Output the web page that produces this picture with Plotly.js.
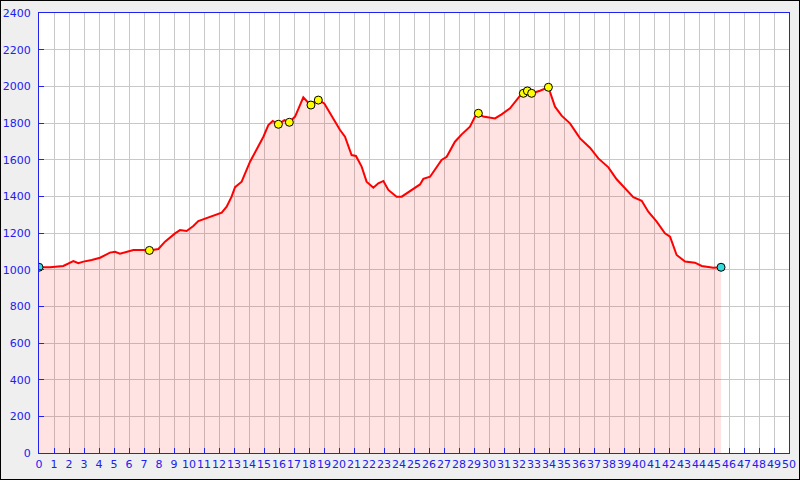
<!DOCTYPE html>
<html>
<head>
<meta charset="utf-8">
<script src="https://cdn.plot.ly/plotly-3.0.1.min.js"></script>
<style>
html,body{margin:0;padding:0;background:#efefef;}
#wrap{width:800px;height:480px;box-sizing:border-box;border:1px solid #000;background:#efefef;overflow:hidden;}
#chart{width:798px;height:478px;}
</style>
</head>
<body>
<div id="wrap"><div id="chart"></div></div>
<script>
// Elevation profile: distance (km) and elevation (m)
const distKm = [0,0.73,1.62,2.29,2.62,2.96,3.51,4.07,4.73,5.07,5.4,5.96,6.29,6.96,7.36,7.96,8.4,9.07,9.4,9.84,10.29,10.62,11.18,11.73,12.18,12.51,12.84,13.07,13.51,14.07,14.51,14.96,15.29,15.58,15.96,16.36,16.69,17.07,17.4,17.62,17.89,18.13,18.4,18.62,19.02,19.62,20.07,20.4,20.84,21.13,21.51,21.84,22.29,22.62,22.96,23.29,23.84,24.18,24.73,25.4,25.62,26.07,26.84,27.18,27.73,28.18,28.73,29.07,29.29,29.62,30.4,30.84,31.4,32.07,32.29,32.56,32.84,33.4,33.96,34.4,34.84,35.4,36.07,36.73,37.29,37.96,38.51,39.07,39.62,40.18,40.62,41.18,41.73,42.07,42.51,43.07,43.73,44.18,44.96,45.47];
const elevM = [1013,1013,1020,1047,1035,1044,1053,1065,1093,1098,1087,1098,1107,1107,1105,1113,1153,1198,1216,1211,1238,1265,1280,1298,1311,1344,1398,1450,1480,1589,1653,1725,1789,1811,1793,1816,1804,1835,1898,1940,1916,1898,1916,1925,1907,1825,1762,1725,1625,1620,1562,1480,1447,1471,1484,1435,1398,1398,1430,1465,1495,1507,1598,1616,1698,1738,1780,1835,1853,1835,1825,1847,1880,1949,1962,1975,1962,1976,1995,1889,1840,1798,1716,1665,1607,1558,1493,1444,1395,1376,1316,1262,1198,1180,1080,1044,1038,1020,1011,1013];
// Waypoints
const wpKm = [7.36,15.96,16.69,18.13,18.62,29.29,32.29,32.56,32.84,33.96];
const wpElev = [1105,1793,1804,1898,1925,1853,1962,1975,1962,1995];
// Start / end
const endKm = [0,45.47];
const endElev = [1013,1013];

const xTickVals = Array.from({length:51},(_, i)=>i);
const yTickVals = [0,200,400,600,800,1000,1200,1400,1600,1800,2000,2200,2400];

const blue = '#2020f0';
const traces = [
  {x: distKm, y: elevM, type:'scatter', mode:'lines', fill:'tozeroy',
   fillcolor:'rgba(255,0,0,0.11)', line:{color:'#ff0000', width:2}, hoverinfo:'x+y'},
  {x: wpKm, y: wpElev, type:'scatter', mode:'markers',
   marker:{size:8, color:'#ffff00', line:{color:'#000', width:1}}},
  {x: endKm, y: endElev, type:'scatter', mode:'markers',
   marker:{size:8, color:'#33dddd', line:{color:'#000', width:1}}}
];
const layout = {
  width:798, height:478,
  margin:{l:38, r:10, t:12, b:26, pad:0},
  paper_bgcolor:'#efefef', plot_bgcolor:'#ffffff',
  showlegend:false,
  font:{family:'DejaVu Sans', size:11, color:blue},
  xaxis:{range:[0,50], tickvals:xTickVals, ticktext:xTickVals.map(String),
    tickangle:0, ticklabeloverflow:'allow',
    showgrid:true, gridcolor:'#c8c8c8', gridwidth:1, zeroline:false,
    showline:true, linecolor:blue, linewidth:1, mirror:true,
    ticks:'inside', ticklen:5, tickcolor:blue, tickfont:{size:11, color:blue},
    ticklabelstandoff:1, fixedrange:true},
  yaxis:{range:[0,2400], tickvals:yTickVals,
    showgrid:true, gridcolor:'#c8c8c8', gridwidth:1, zeroline:false,
    showline:true, linecolor:blue, linewidth:1, mirror:true,
    ticks:'inside', ticklen:5, tickcolor:blue, tickfont:{size:11, color:blue},
    ticklabelstandoff:5, fixedrange:true}
};
Plotly.newPlot('chart', traces, layout, {displayModeBar:false, staticPlot:true});
</script>
</body>
</html>
